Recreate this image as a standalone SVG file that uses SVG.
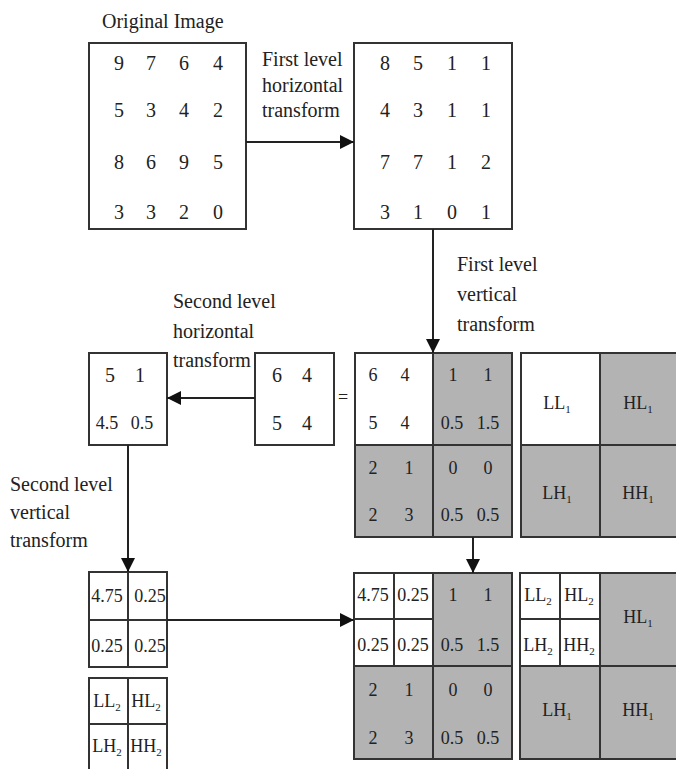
<svg xmlns="http://www.w3.org/2000/svg" width="676" height="769" viewBox="0 0 676 769">
<defs>
<style>
text{font-family:"Liberation Serif","Times New Roman",serif;fill:#222}
.lbl{font-size:20px}
.n{font-size:20px;text-anchor:middle}
.s{font-size:18px;text-anchor:middle}
.g{font-size:18px;text-anchor:middle}
.sub{font-size:11px}
.box{fill:#fff;stroke:#333;stroke-width:2}
.gray{fill:#b3b3b3;stroke:#333;stroke-width:2}
.wht{fill:#fff;stroke:#333;stroke-width:2}
.ln{fill:none;stroke:#333;stroke-width:2}
.conn{fill:none;stroke:#222;stroke-width:2}
</style>
<marker id="ah" markerUnits="userSpaceOnUse" markerWidth="16" markerHeight="16" viewBox="0 0 16 16" refX="15" refY="8" orient="auto">
<path d="M1,1 L15,8 L1,15 Z" fill="#111"/>
</marker>
</defs>
<rect width="676" height="769" fill="#fff"/>

<g id="original">
<text class="lbl" x="102" y="28">Original Image</text>
<rect class="box" x="89" y="43" width="157" height="186"/>
<text class="n" x="119" y="70">9</text><text class="n" x="151" y="70">7</text><text class="n" x="184" y="70">6</text><text class="n" x="218" y="70">4</text>
<text class="n" x="119" y="117">5</text><text class="n" x="151" y="117">3</text><text class="n" x="184" y="117">4</text><text class="n" x="218" y="117">2</text>
<text class="n" x="119" y="169">8</text><text class="n" x="151" y="169">6</text><text class="n" x="184" y="169">9</text><text class="n" x="218" y="169">5</text>
<text class="n" x="119" y="219">3</text><text class="n" x="151" y="219">3</text><text class="n" x="184" y="219">2</text><text class="n" x="218" y="219">0</text>
</g>

<g id="horizontal1">
<rect class="box" x="354" y="43" width="158" height="186"/>
<text class="n" x="385" y="70">8</text><text class="n" x="418" y="70">5</text><text class="n" x="452" y="70">1</text><text class="n" x="486" y="70">1</text>
<text class="n" x="385" y="117">4</text><text class="n" x="418" y="117">3</text><text class="n" x="452" y="117">1</text><text class="n" x="486" y="117">1</text>
<text class="n" x="385" y="169">7</text><text class="n" x="418" y="169">7</text><text class="n" x="452" y="169">1</text><text class="n" x="486" y="169">2</text>
<text class="n" x="385" y="219">3</text><text class="n" x="418" y="219">1</text><text class="n" x="452" y="219">0</text><text class="n" x="486" y="219">1</text>
</g>

<g id="level1-grid">
<rect class="wht" x="355" y="353" width="78" height="92"/>
<rect class="gray" x="433" y="353" width="79" height="92"/>
<rect class="gray" x="355" y="445" width="78" height="92"/>
<rect class="gray" x="433" y="445" width="79" height="92"/>
<text class="g" x="373" y="381">6</text><text class="g" x="405" y="381">4</text>
<text class="g" x="453" y="381">1</text><text class="g" x="488" y="381">1</text>
<text class="g" x="373" y="429">5</text><text class="g" x="405" y="429">4</text>
<text class="g" x="452" y="429">0.5</text><text class="g" x="488" y="429">1.5</text>
<text class="g" x="373" y="474">2</text><text class="g" x="409" y="474">1</text>
<text class="g" x="453" y="474">0</text><text class="g" x="488" y="474">0</text>
<text class="g" x="373" y="521">2</text><text class="g" x="409" y="521">3</text>
<text class="g" x="452" y="521">0.5</text><text class="g" x="488" y="521">0.5</text>
</g>

<g id="level1-legend">
<rect class="wht" x="521" y="353" width="79" height="92"/>
<rect class="gray" x="600" y="353" width="79" height="92"/>
<rect class="gray" x="521" y="445" width="79" height="92"/>
<rect class="gray" x="600" y="445" width="79" height="92"/>
<text class="g" x="557" y="409">LL<tspan class="sub" dy="4">1</tspan></text>
<text class="g" x="638" y="409">HL<tspan class="sub" dy="4">1</tspan></text>
<text class="g" x="557" y="499">LH<tspan class="sub" dy="4">1</tspan></text>
<text class="g" x="638" y="499">HH<tspan class="sub" dy="4">1</tspan></text>
</g>

<g id="ll1">
<rect class="box" x="255" y="353" width="79" height="92"/>
<text class="n" x="277" y="382">6</text><text class="n" x="307" y="382">4</text>
<text class="n" x="277" y="430">5</text><text class="n" x="307" y="430">4</text>
<text class="s" x="343" y="403">=</text>
</g>

<g id="horizontal2">
<rect class="box" x="89" y="353" width="78" height="92"/>
<text class="n" x="110" y="382">5</text><text class="n" x="140" y="382">1</text>
<text class="s" x="107" y="429">4.5</text><text class="s" x="142" y="429">0.5</text>
</g>

<g id="vertical2">
<rect class="wht" x="89" y="572" width="78" height="48"/>
<rect class="wht" x="89" y="620" width="78" height="47"/>
<line class="ln" x1="128" y1="572" x2="128" y2="667"/>
<text class="s" x="107" y="602">4.75</text><text class="s" x="150" y="602">0.25</text>
<text class="s" x="107" y="652">0.25</text><text class="s" x="150" y="652">0.25</text>
</g>

<g id="level2-legend-small">
<rect class="wht" x="89" y="678" width="78" height="46"/>
<rect class="wht" x="89" y="724" width="78" height="50"/>
<line class="ln" x1="128" y1="678" x2="128" y2="769"/>
<text class="g" x="107" y="707">LL<tspan class="sub" dy="4">2</tspan></text>
<text class="g" x="146" y="707">HL<tspan class="sub" dy="4">2</tspan></text>
<text class="g" x="107" y="752">LH<tspan class="sub" dy="4">2</tspan></text>
<text class="g" x="146" y="752">HH<tspan class="sub" dy="4">2</tspan></text>
</g>

<g id="level2-grid">
<rect class="gray" x="354" y="573" width="158" height="186"/>
<rect class="wht" x="354" y="573" width="40" height="46"/>
<rect class="wht" x="394" y="573" width="39" height="46"/>
<rect class="wht" x="354" y="619" width="40" height="47"/>
<rect class="wht" x="394" y="619" width="39" height="47"/>
<line class="ln" x1="433" y1="573" x2="433" y2="759"/>
<line class="ln" x1="354" y1="666" x2="512" y2="666"/>
<text class="s" x="373" y="601">4.75</text><text class="s" x="413" y="601">0.25</text>
<text class="s" x="373" y="651">0.25</text><text class="s" x="413" y="651">0.25</text>
<text class="g" x="453" y="601">1</text><text class="g" x="488" y="601">1</text>
<text class="g" x="452" y="651">0.5</text><text class="g" x="488" y="651">1.5</text>
<text class="g" x="373" y="696">2</text><text class="g" x="409" y="696">1</text>
<text class="g" x="453" y="696">0</text><text class="g" x="488" y="696">0</text>
<text class="g" x="373" y="744">2</text><text class="g" x="409" y="744">3</text>
<text class="g" x="452" y="744">0.5</text><text class="g" x="488" y="744">0.5</text>
</g>

<g id="level2-legend">
<rect class="gray" x="520" y="573" width="159" height="186"/>
<rect class="wht" x="520" y="573" width="40" height="46"/>
<rect class="wht" x="560" y="573" width="40" height="46"/>
<rect class="wht" x="520" y="619" width="40" height="47"/>
<rect class="wht" x="560" y="619" width="40" height="47"/>
<line class="ln" x1="600" y1="573" x2="600" y2="759"/>
<line class="ln" x1="520" y1="666" x2="679" y2="666"/>
<text class="g" x="538" y="601">LL<tspan class="sub" dy="4">2</tspan></text>
<text class="g" x="579" y="601">HL<tspan class="sub" dy="4">2</tspan></text>
<text class="g" x="538" y="651">LH<tspan class="sub" dy="4">2</tspan></text>
<text class="g" x="579" y="651">HH<tspan class="sub" dy="4">2</tspan></text>
<text class="g" x="638" y="623">HL<tspan class="sub" dy="4">1</tspan></text>
<text class="g" x="557" y="716">LH<tspan class="sub" dy="4">1</tspan></text>
<text class="g" x="638" y="716">HH<tspan class="sub" dy="4">1</tspan></text>
</g>

<g id="connectors">
<line class="conn" x1="246" y1="142" x2="354" y2="142" marker-end="url(#ah)"/>
<line class="conn" x1="433" y1="229" x2="433" y2="353" marker-end="url(#ah)"/>
<line class="conn" x1="255" y1="398" x2="167" y2="398" marker-end="url(#ah)"/>
<line class="conn" x1="128" y1="445" x2="128" y2="572" marker-end="url(#ah)"/>
<line class="conn" x1="473" y1="537" x2="473" y2="573" marker-end="url(#ah)"/>
<line class="conn" x1="167" y1="620" x2="354" y2="620" marker-end="url(#ah)"/>
</g>

<g id="labels">
<text class="lbl" x="262" y="66">First level</text>
<text class="lbl" x="262" y="92">horizontal</text>
<text class="lbl" x="262" y="117">transform</text>
<text class="lbl" x="457" y="271">First level</text>
<text class="lbl" x="457" y="301">vertical</text>
<text class="lbl" x="457" y="331">transform</text>
<text class="lbl" x="173" y="308">Second level</text>
<text class="lbl" x="173" y="338">horizontal</text>
<text class="lbl" x="173" y="367">transform</text>
<text class="lbl" x="10" y="491">Second level</text>
<text class="lbl" x="10" y="519">vertical</text>
<text class="lbl" x="10" y="547">transform</text>
</g>
</svg>
